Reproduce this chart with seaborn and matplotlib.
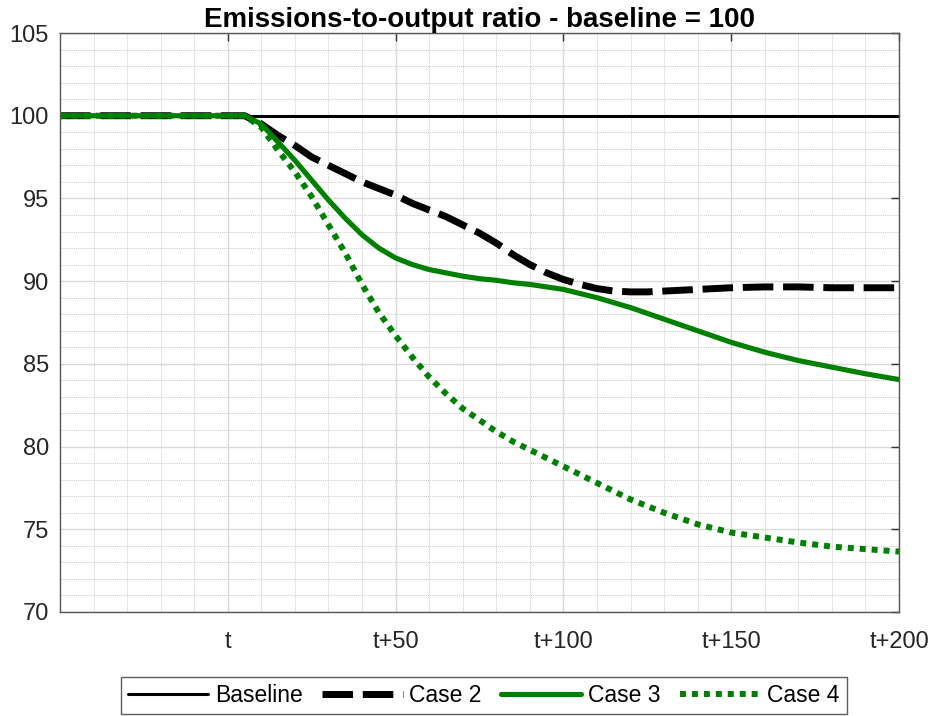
import matplotlib
matplotlib.use("Agg")
import matplotlib.pyplot as plt
from matplotlib.ticker import MultipleLocator, FixedLocator
import pandas as pd
import seaborn as sns

# Periods relative to the policy start t
periods = [-50, 0, 5, 10, 15, 20, 25, 30, 35, 40, 45, 50, 55, 60, 65, 70, 75,
           80, 85, 90, 95, 100, 105, 110, 115, 120, 125, 130, 140, 150, 160,
           170, 180, 190, 200]

baseline = [100.0] * len(periods)

case2 = [100.0, 100.0, 100.0, 99.5, 98.8, 98.2, 97.5, 97.0, 96.5, 96.0, 95.6,
         95.2, 94.7, 94.3, 93.9, 93.4, 92.9, 92.3, 91.6, 91.0, 90.5, 90.1,
         89.8, 89.55, 89.4, 89.35, 89.35, 89.4, 89.5, 89.6, 89.65, 89.65,
         89.6, 89.6, 89.6]

case3 = [100.0, 100.0, 100.0, 99.5, 98.4, 97.3, 96.1, 94.9, 93.8, 92.8, 92.0,
         91.4, 91.0, 90.7, 90.5, 90.3, 90.15, 90.05, 89.9, 89.8, 89.65, 89.5,
         89.25, 89.0, 88.7, 88.4, 88.05, 87.7, 87.0, 86.3, 85.7, 85.2, 84.8,
         84.4, 84.05]

case4 = [100.0, 100.0, 100.0, 99.3, 97.9, 96.6, 95.1, 93.4, 91.7, 89.8, 88.1,
         86.7, 85.4, 84.2, 83.2, 82.3, 81.6, 80.9, 80.3, 79.8, 79.3, 78.8,
         78.3, 77.8, 77.3, 76.8, 76.4, 76.0, 75.3, 74.8, 74.5, 74.2, 73.95,
         73.8, 73.65]

xtick_pos = [0, 50, 100, 150, 200]
xtick_labels = ["t", "t+50", "t+100", "t+150", "t+200"]
ytick_pos = [70, 75, 80, 85, 90, 95, 100, 105]

sns.set_theme(style="white")
plt.rcParams["font.family"] = ["Liberation Sans", "DejaVu Sans"]

fig = plt.figure(figsize=(9.36, 7.16), dpi=100)
ax = fig.add_axes([0.0641, 0.1453, 0.8964, 0.8086])

df = pd.DataFrame({"period": periods, "Baseline": baseline, "Case 2": case2,
                   "Case 3": case3, "Case 4": case4})

sns.lineplot(data=df, x="period", y="Baseline", ax=ax, color="black",
             linewidth=2.2, label="Baseline")
sns.lineplot(data=df, x="period", y="Case 2", ax=ax, color="black",
             linewidth=5.0, label="Case 2")
sns.lineplot(data=df, x="period", y="Case 3", ax=ax, color="#008000",
             linewidth=3.7, label="Case 3")
sns.lineplot(data=df, x="period", y="Case 4", ax=ax, color="#008000",
             linewidth=4.3, label="Case 4")

lines = ax.get_lines()
lines[1].set_dashes((4.4, 1.4))
lines[1].set_dash_capstyle("butt")
lines[3].set_dashes((1.0, 1.0))
lines[3].set_dash_capstyle("butt")

ax.set_xlim(-50, 200)
ax.set_ylim(70, 105)
ax.xaxis.set_major_locator(FixedLocator(xtick_pos))
ax.set_xticklabels(xtick_labels)
ax.xaxis.set_minor_locator(MultipleLocator(10))
ax.yaxis.set_major_locator(FixedLocator(ytick_pos))
ax.yaxis.set_minor_locator(MultipleLocator(1))

ax.grid(which="major", color="#d9d9d9", linewidth=1.0, linestyle="-")
ax.grid(which="minor", color="#cccccc", linewidth=0.7, linestyle=(0, (1, 1)))
ax.set_axisbelow(True)

ax.tick_params(which="major", direction="in", length=6, width=1.0,
               color="#333333", top=True, right=True, labelsize=17,
               labelcolor="#262626")
ax.tick_params(which="minor", length=0, top=True, right=True)
ax.tick_params(axis="x", pad=14)
ax.tick_params(axis="y", pad=8)
for s in ax.spines.values():
    s.set_color("#555555")
    s.set_linewidth(1.0)

ax.set_xlabel("")
ax.set_ylabel("")
ax.set_title("Emissions-to-output ratio - baseline = 100", fontsize=20,
             fontweight="bold", color="black", pad=4)

handles, labels = ax.get_legend_handles_labels()
ax.legend_.remove()
leg = fig.legend(handles, labels, loc="lower center", ncol=4,
                 bbox_to_anchor=(0.517, -0.013), frameon=True, fancybox=False,
                 handlelength=3.5, handletextpad=0.3, columnspacing=0.85,
                 borderpad=0.3, prop={"size": 16.5}, labelcolor="black")
leg.get_frame().set_edgecolor("#333333")
leg.get_frame().set_linewidth(1.0)

fig.savefig("out.png", dpi=100)
